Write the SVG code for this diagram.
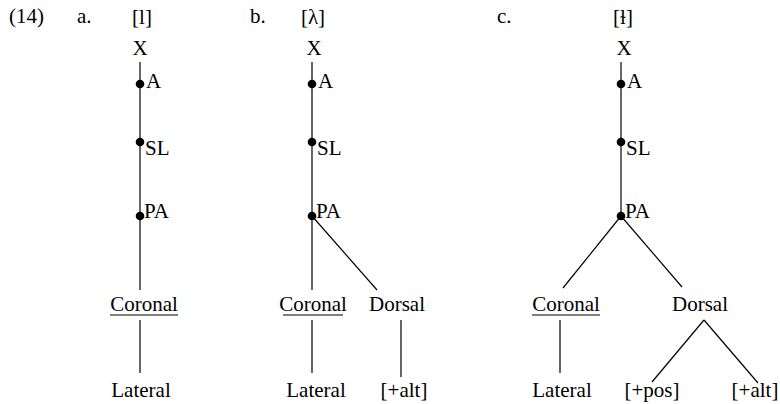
<svg xmlns="http://www.w3.org/2000/svg" id="d" width="780" height="404" viewBox="0 0 780 404">
<style>
#d text{font-family:'Liberation Serif',serif;font-size:21px;fill:#000}
#d .m{text-anchor:middle}
#d .ln{stroke:#000;stroke-width:1.2;fill:none}
#d .ul{stroke:#000;stroke-width:1.1}
#d .dot{fill:#000}
</style>
<rect width="780" height="404" fill="#fff"/>
<g id="labels">
<text x="9" y="23">(14)</text>
<text x="77" y="23">a.</text>
<text x="250" y="23">b.</text>
<text x="497" y="23">c.</text>
<text class="m" x="142" y="24">[l]</text>
<text class="m" x="313" y="24">[λ]</text>
<text class="m" x="623" y="24">[ɫ]</text>
</g>
<g id="connectors">
<line class="ln" x1="140" y1="62" x2="140" y2="290"/>
<line class="ln" x1="140" y1="320" x2="140" y2="373"/>
<line class="ln" x1="312" y1="62" x2="312" y2="290"/>
<line class="ln" x1="312" y1="216" x2="377" y2="290"/>
<line class="ln" x1="312" y1="320" x2="312" y2="373"/>
<line class="ln" x1="401" y1="320" x2="401" y2="377"/>
<line class="ln" x1="621" y1="62" x2="621" y2="216"/>
<line class="ln" x1="621" y1="216" x2="563" y2="288"/>
<line class="ln" x1="621" y1="216" x2="682" y2="287"/>
<line class="ln" x1="560" y1="320" x2="560" y2="373"/>
<line class="ln" x1="704" y1="320" x2="652" y2="382"/>
<line class="ln" x1="704" y1="320" x2="758" y2="383"/>
</g>
<g id="tree-a">
<g id="a-X"><text class="m" x="140" y="55">X</text></g>
<g id="a-A"><circle class="dot" cx="140" cy="84" r="4.3"/><text x="146" y="88">A</text></g>
<g id="a-SL"><circle class="dot" cx="140" cy="142" r="4.3"/><text x="145" y="155">SL</text></g>
<g id="a-PA"><circle class="dot" cx="140" cy="216" r="4.3"/><text x="144" y="218">PA</text></g>
<g id="a-Coronal"><text class="m" x="144" y="311">Coronal</text><line class="ul" x1="110" y1="315" x2="178" y2="315"/></g>
<g id="a-Lateral"><text class="m" x="141" y="397">Lateral</text></g>
</g>
<g id="tree-b">
<g id="b-X"><text class="m" x="314" y="55">X</text></g>
<g id="b-A"><circle class="dot" cx="312" cy="84" r="4.3"/><text x="318" y="88">A</text></g>
<g id="b-SL"><circle class="dot" cx="312" cy="142" r="4.3"/><text x="317" y="155">SL</text></g>
<g id="b-PA"><circle class="dot" cx="312" cy="216" r="4.3"/><text x="316" y="218">PA</text></g>
<g id="b-Coronal"><text class="m" x="313" y="311">Coronal</text><line class="ul" x1="283" y1="315" x2="343" y2="315"/></g>
<g id="b-Dorsal"><text class="m" x="397" y="311">Dorsal</text></g>
<g id="b-Lateral"><text class="m" x="316" y="397">Lateral</text></g>
<g id="b-alt"><text class="m" x="404" y="397">[+alt]</text></g>
</g>
<g id="tree-c">
<g id="c-X"><text class="m" x="624" y="55">X</text></g>
<g id="c-A"><circle class="dot" cx="621" cy="84" r="4.3"/><text x="627" y="88">A</text></g>
<g id="c-SL"><circle class="dot" cx="621" cy="142" r="4.3"/><text x="626" y="155">SL</text></g>
<g id="c-PA"><circle class="dot" cx="621" cy="216" r="4.3"/><text x="625" y="218">PA</text></g>
<g id="c-Coronal"><text class="m" x="566" y="311">Coronal</text><line class="ul" x1="532" y1="315" x2="600" y2="315"/></g>
<g id="c-Dorsal"><text class="m" x="700" y="311">Dorsal</text></g>
<g id="c-Lateral"><text class="m" x="562" y="397">Lateral</text></g>
<g id="c-pos"><text class="m" x="652" y="397">[+pos]</text></g>
<g id="c-alt"><text class="m" x="755" y="397">[+alt]</text></g>
</g>
</svg>
